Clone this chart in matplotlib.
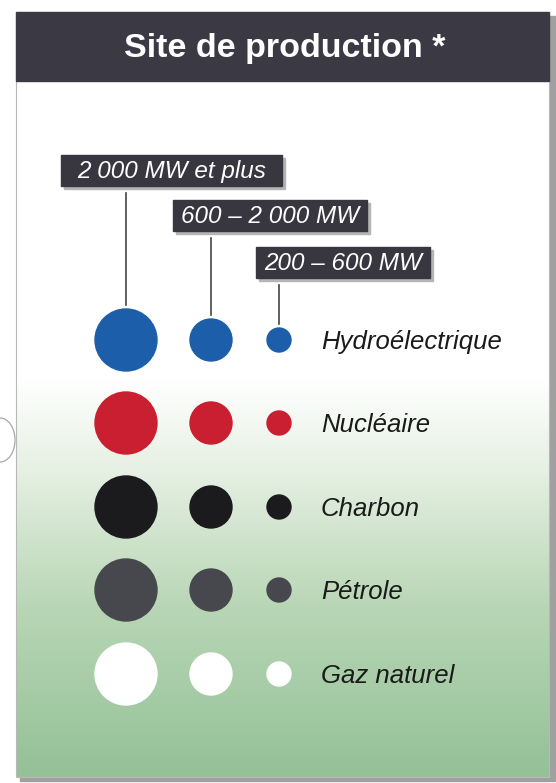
import numpy as np
import matplotlib.pyplot as plt
from matplotlib.patches import Circle, Rectangle, Arc
from matplotlib.colors import LinearSegmentedColormap

# data
title = 'Site de production *'
categories = ['Hydroélectrique', 'Nucléaire', 'Charbon', 'Pétrole', 'Gaz naturel']
colors = ['#1c5ea9', '#c91f30', '#1b1a1c', '#46484d', '#ffffff']
size_labels = ['2 000 MW et plus', '600 – 2 000 MW', '200 – 600 MW']
radii = [31, 21, 12]

# layout in pixel units
col_x = [126, 211, 279]
row_y = [340, 423, 507, 590, 674]
tag_boxes = [(61, 155, 221, 31), (173, 200, 194, 31), (256, 247, 174, 31)]
label_x = 321

fig = plt.figure(figsize=(5.56, 7.83), dpi=100)
ax = fig.add_axes([0, 0, 1, 1])
ax.set_xlim(0, 556)
ax.set_ylim(783, 0)
ax.axis('off')

# panel shadow and background gradient
ax.add_patch(Rectangle((20, 16), 535, 765, color='#a0a0a0', zorder=0))
cmap = LinearSegmentedColormap.from_list('bg', [(0, '#ffffff'), (0.48, '#ffffff'), (0.6, '#e6f0e3'),
                                                (0.78, '#b8d6b5'), (1, '#94c197')])
grad = np.linspace(0, 1, 256).reshape(-1, 1)
ax.imshow(grad, cmap=cmap, extent=(16, 549, 777, 12), aspect='auto', zorder=1)
ax.add_patch(Rectangle((16, 12), 533, 765, fill=False, ec='#b8b8b8', lw=0.8, zorder=2))

# header
ax.add_patch(Rectangle((16, 12), 533, 69, color='#3b3944', zorder=3))
ax.text(285, 48, title, color='white', fontsize=24.5, fontweight='bold',
        family='Liberation Sans', ha='center', va='center', zorder=4)

# binder hole at left edge
ax.add_patch(Arc((0, 440), 30, 44, theta1=-90, theta2=90, color='#b0b0b0', lw=1, zorder=4))

# size tags with leader lines
for (bx, by, bw, bh), lab, cx, r in zip(tag_boxes, size_labels, col_x, radii):
    ax.add_patch(Rectangle((bx + 3, by + 3), bw, bh, color='#b5b5b5', zorder=3))
    ax.add_patch(Rectangle((bx, by), bw, bh, color='#38363f', zorder=4))
    ax.text(bx + bw / 2, by + bh / 2 + 1, lab, color='white', fontsize=17.5, style='italic',
            family='Liberation Sans', ha='center', va='center', zorder=5)
    ax.plot([cx, cx], [by + bh + 7, row_y[0] - r - 4], color='#444444', lw=1.2, zorder=4)

# circles
for y, c, name in zip(row_y, colors, categories):
    for x, r in zip(col_x, radii):
        ax.add_patch(Circle((x, y), r, color=c, zorder=5))
    ax.text(label_x, y + 2, name, color='#1a1a1a', fontsize=18.5, style='italic',
            family='Liberation Sans', ha='left', va='center', zorder=5)

fig.savefig('out.png', dpi=100)
